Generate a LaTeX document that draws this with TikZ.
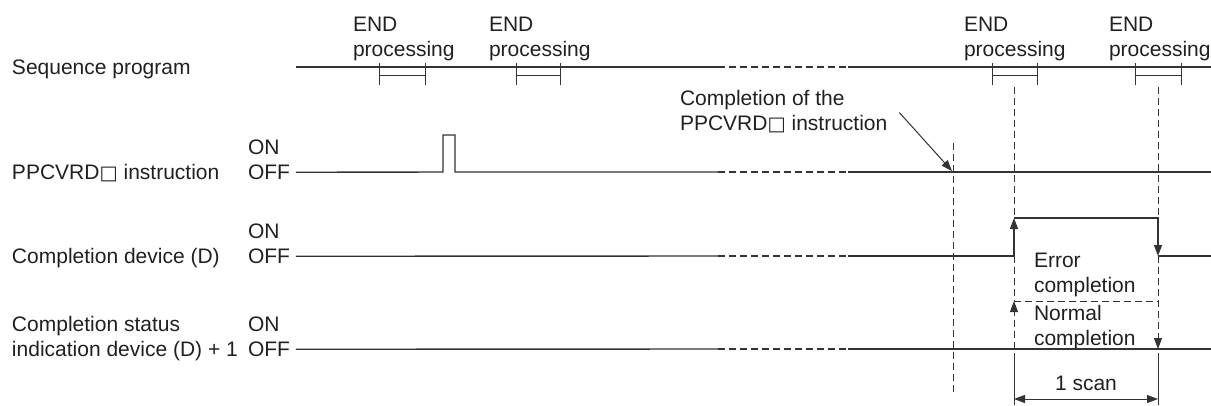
\documentclass[tikz,border=0pt]{standalone}
\usepackage{fontspec}
\setmainfont{Liberation Sans}
\newfontfamily\sqfont{DejaVu Sans}[Scale=0.92]
\newcommand{\sqbox}{{\sqfont □}}
\usetikzlibrary{arrows.meta}
\definecolor{textc}{HTML}{231F20}
\definecolor{linec}{HTML}{333333}
\begin{document}
\begin{tikzpicture}[x=1pt,y=-1pt,
  txt/.style={inner sep=0pt, outer sep=0pt, font=\fontsize{21}{25}\selectfont, text=textc, align=left},
  sig/.style={draw=linec, line width=1.4pt},
  thinl/.style={draw=linec, line width=1pt},
  gapl/.style={draw=linec, line width=1.4pt, dash pattern=on 7pt off 4pt},
  guide/.style={draw=linec, line width=0.9pt, dash pattern=on 7pt off 4pt},
  tip/.style={-{Triangle[length=11pt,width=8pt]}},
  tips/.style={{Triangle[length=11pt,width=8pt]}-{Triangle[length=11pt,width=8pt]}}]
\useasboundingbox (0,0) rectangle (1211,405);

% left labels
\node[txt, anchor=base west] (lseq) at (12,74.5) {Sequence program};
\node[txt, anchor=base west] (lppc) at (12,179.5) {PPCVRD\sqbox{} instruction};
\node[txt, anchor=base west] (lcd) at (12,263.5) {Completion device (D)};
\node[txt, anchor=north west] (lcs) at (12,316.5) {Completion status\\indication device (D) + 1};

% ON / OFF
\node[txt, anchor=base west] (on1) at (248,154.5) {ON};
\node[txt, anchor=base west] (off1) at (248,179.5) {OFF};
\node[txt, anchor=base west] (on2) at (248,238.5) {ON};
\node[txt, anchor=base west] (off2) at (248,263.5) {OFF};
\node[txt, anchor=base west] (on3) at (248,331.5) {ON};
\node[txt, anchor=base west] (off3) at (248,356.5) {OFF};

% END processing labels
\node[txt, anchor=north west] (e1) at (353,17.5) {END\\processing};
\node[txt, anchor=north west] (e2) at (489,17.5) {END\\processing};
\node[txt, anchor=north west] (e3) at (964,17.5) {END\\processing};
\node[txt, anchor=north west] (e4) at (1109,17.5) {END\\processing};

% other texts
\node[txt, anchor=north west] (cpl) at (680,90.5) {Completion of the\\PPCVRD\sqbox{} instruction};
\node[txt, anchor=north west] (err) at (1034,253.5) {Error\\completion};
\node[txt, anchor=north west] (nrm) at (1034,305.5) {Normal\\completion};
\node[txt, anchor=base] (scan) at (1086,390.5) {1 scan};

% key coordinates
\coordinate (s0) at (296,67);

% sequence program line
\draw[sig] (s0) -- (718,67);
\draw[gapl] (718,67) -- (848,67);
\draw[sig] (848,67) -- (1211,67);
\foreach \xa/\xb in {379/425, 516/560, 992/1037, 1135/1181}{
  \draw[thinl] (\xa,63) -- (\xa,85) (\xb,63) -- (\xb,85) (\xa,75) -- (\xb,75);
}

% PPCVRD instruction
\draw[sig] ([xshift=6pt]off1.east) -- (443,172) -- (443,135) -- (455,135) -- (455,172) -- (718,172);
\draw[gapl] (718,172) -- (848,172);
\draw[sig] (848,172) -- (1211,172);

% completion device
\draw[sig] ([xshift=6pt]off2.east) -- (718,256);
\draw[gapl] (718,256) -- (848,256);
\draw[sig, tip] (848,256) -- (1014,256) -- (1014,218);
\draw[sig, tip] (1014,218) -- (1158,218) -- (1158,256);
\draw[sig] (1158,256) -- (1211,256);

% completion status
\draw[sig] ([xshift=6pt]off3.east) -- (718,349);
\draw[gapl] (718,349) -- (848,349);
\draw[sig] (848,349) -- (1211,349);

% guides
\draw[guide] (953,143) -- (953,395);
\draw[guide] (1014,87) -- (1014,218);
\draw[guide] (1158,87) -- (1158,218);
\draw[guide] (1014,256) -- (1014,301);
\draw[guide] (1158,256) -- (1158,301);
\draw[guide, tip] (1014,349) -- (1014,301);
\draw[guide, tip] (1014,301) -- (1158,301) -- (1158,349);

% completion arrow
\draw[thinl, tip] (cpl.north east) ++(12,22) coordinate (ca) -- (952,171);

% 1 scan
\draw[thinl] (1014,353) -- (1014,405);
\draw[thinl] (1158,353) -- (1158,405);
\draw[thinl, tips] (1014,399) -- (1158,399);
\end{tikzpicture}
\end{document}
